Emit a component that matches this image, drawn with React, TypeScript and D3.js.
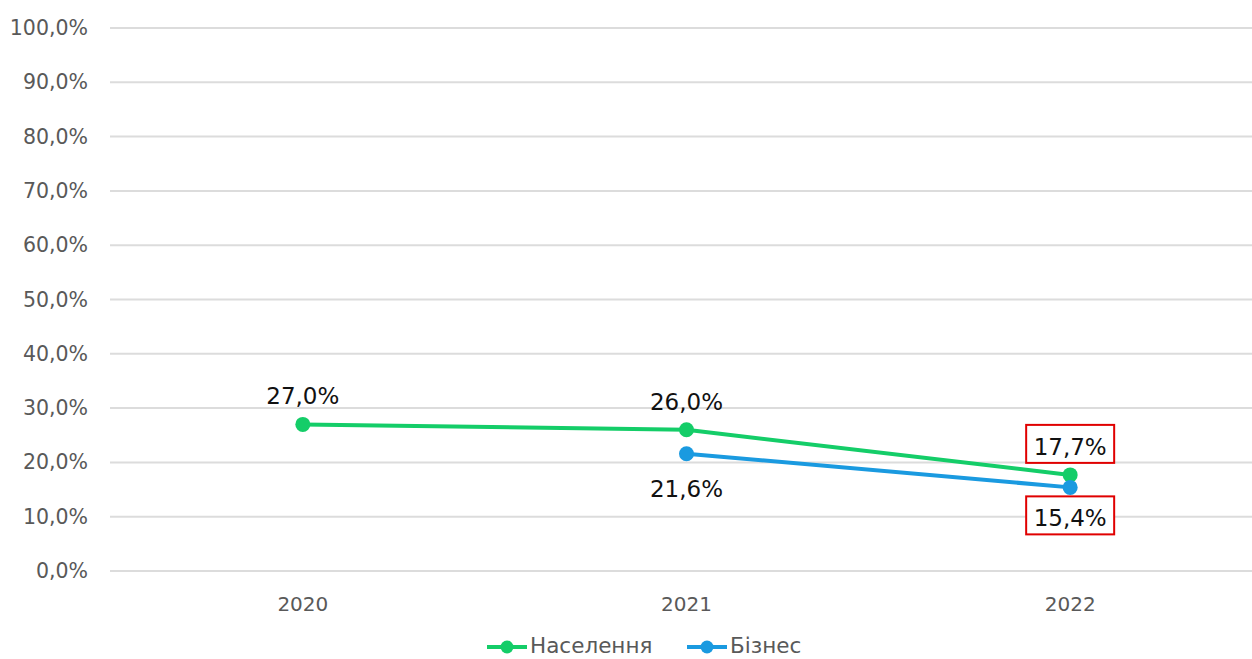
import React from "react";
import * as d3 from "d3";

const years = ["2020", "2021", "2022"];
const population: (number | null)[] = [27.0, 26.0, 17.7];
const business: (number | null)[] = [null, 21.6, 15.4];
const yTicks = [0, 10, 20, 30, 40, 50, 60, 70, 80, 90, 100];
const seriesNames = ["Населення", "Бізнес"];
const highlighted = ["2022"];

const W = 1252, H = 659;
const GREEN = "#14cd68";
const BLUE = "#1a9ae0";
const FONT = "'DejaVu Sans', Verdana, sans-serif";

const fmt = (v: number) => v.toFixed(1).replace(".", ",") + "%";

export default function App() {
  const x = d3.scaleBand<string>().domain(years).range([111, 1262]);
  const cx = (yr: string) => (x(yr) as number) + x.bandwidth() / 2;
  const y = d3.scaleLinear().domain([0, 100]).range([571, 28]);

  const line = d3
    .line<number | null>()
    .defined((d) => d !== null)
    .x((_, i) => cx(years[i]))
    .y((d) => y(d as number));

  const series = [
    { name: seriesNames[0], data: population, color: GREEN, above: true },
    { name: seriesNames[1], data: business, color: BLUE, above: false },
  ];

  return (
    <svg width={W} height={H} style={{ position: "absolute", left: 0, top: 0, background: "#fff" }}>
      {yTicks.map((t) => (
        <g key={t}>
          <line x1={110} x2={W} y1={y(t)} y2={y(t)} stroke="#dcdcdc" strokeWidth={2} />
          <text x={88} y={y(t) + 7} textAnchor="end" fontFamily={FONT} fontSize={20.5} fill="#595959">
            {fmt(t)}
          </text>
        </g>
      ))}
      {years.map((yr) => (
        <text key={yr} x={cx(yr)} y={611} textAnchor="middle" fontFamily={FONT} fontSize={20} fill="#595959">
          {yr}
        </text>
      ))}
      {series.map((s) => (
        <g key={s.name}>
          <path d={line(s.data) || ""} fill="none" stroke={s.color} strokeWidth={4} strokeLinejoin="round" />
          {s.data.map((v, i) =>
            v === null ? null : (
              <circle key={i} cx={cx(years[i])} cy={y(v)} r={7.5} fill={s.color} />
            )
          )}
        </g>
      ))}
      {series.map((s) =>
        s.data.map((v, i) => {
          if (v === null) return null;
          const px = cx(years[i]);
          const py = y(v);
          const boxed = highlighted.includes(years[i]);
          const ty = s.above ? py - 20 : py + (boxed ? 39 : 43);
          return (
            <g key={s.name + i}>
              {boxed && (
                <rect x={px - 44} y={ty - 30} width={88} height={38} fill="#fff" stroke="#e00000" strokeWidth={2} />
              )}
              <text x={px} y={ty} textAnchor="middle" fontFamily={FONT} fontSize={23} fill="#111">
                {fmt(v)}
              </text>
            </g>
          );
        })
      )}
      <g>
        {series.map((s, i) => {
          const lx = i === 0 ? 487 : 687;
          return (
            <g key={s.name}>
              <line x1={lx} x2={lx + 40} y1={647} y2={647} stroke={s.color} strokeWidth={4} />
              <circle cx={lx + 20} cy={647} r={6.5} fill={s.color} />
              <text x={lx + 43} y={653} fontFamily={FONT} fontSize={21.5} fill="#595959">
                {s.name}
              </text>
            </g>
          );
        })}
      </g>
    </svg>
  );
}
